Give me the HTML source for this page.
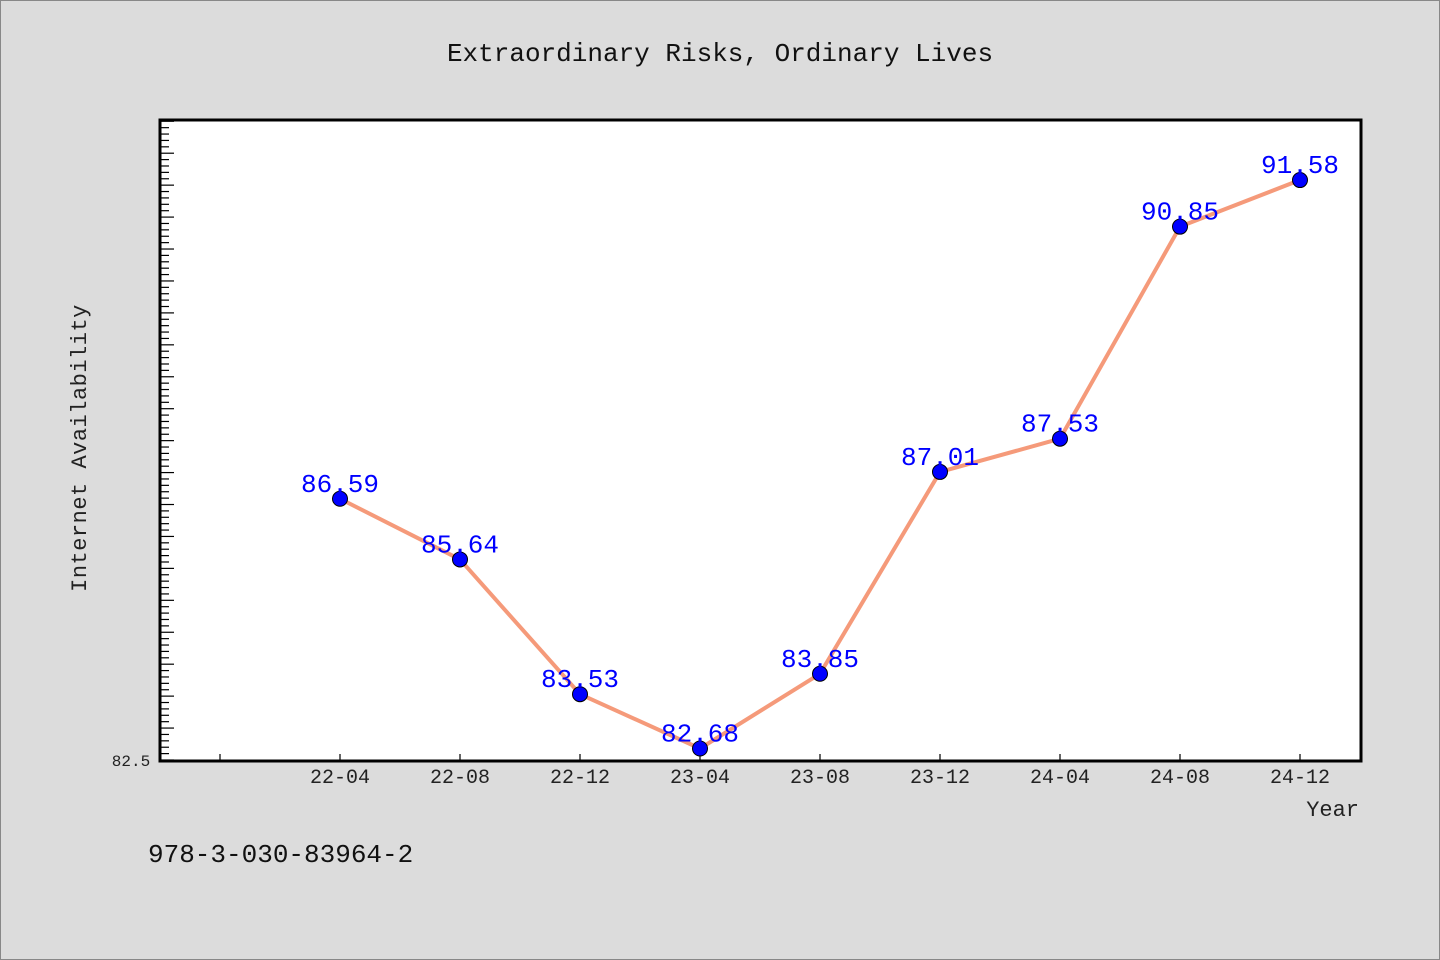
<!DOCTYPE html>
<html><head><meta charset="utf-8"><style>
body{margin:0;background:#dcdcdc;}
svg{display:block;font-family:"WenQuanYi Zen Hei","Liberation Mono",monospace;}
</style></head><body>
<svg width="1440" height="960" xmlns="http://www.w3.org/2000/svg">
<rect x="0.5" y="0.5" width="1439" height="959" fill="#dcdcdc" stroke="#888"/>
<text x="720" y="61" text-anchor="middle" font-size="26" fill="#111">Extraordinary Risks, Ordinary Lives</text>
<rect x="160" y="120" width="1201" height="641" fill="#fff"/>
<g id="ticks"></g>
<g id="series"></g>
<rect x="160" y="120" width="1201" height="641" fill="none" stroke="#000" stroke-width="3"/>
<text x="131" y="766" text-anchor="middle" font-size="16" fill="#222">82.5</text>
<text x="86" y="448" text-anchor="middle" font-size="22" fill="#222" letter-spacing="0.5" transform="rotate(-90 86 448)">Internet Availability</text>
<text x="1359" y="816" text-anchor="end" font-size="22" fill="#222">Year</text>
<text x="148" y="862" font-size="26" fill="#111">978-3-030-83964-2</text>
</svg>
<script>
const categories=["22-04","22-08","22-12","23-04","23-08","23-12","24-04","24-08","24-12"];
const values=[86.59,85.64,83.53,82.68,83.85,87.01,87.53,90.85,91.58];
const labels=["86.59","85.64","83.53","82.68","83.85","87.01","87.53","90.85","91.58"];
const ns="http://www.w3.org/2000/svg";
const yMin=82.5,yMax=92.52,yTop=120,yBot=760;
function y(v){return yBot-(v-yMin)/(yMax-yMin)*(yBot-yTop);}
function x(i){return 340+120*i;}
function mk(t,a,p){const e=document.createElementNS(ns,t);for(const k in a)e.setAttribute(k,a[k]);p.appendChild(e);return e;}
const tg=document.getElementById('ticks'),sg=document.getElementById('series');
for(let k=0;;k++){const v=yMin+k*0.1;if(v>yMax)break;const yy=y(v);const major=k%5===0;
 const l=mk('line',{x1:160,x2:major?174:169,y1:yy,y2:yy,stroke:'#000','stroke-width':1.2},tg);
 
 }
for(let i=-1;i<categories.length;i++){const l=mk('line',{x1:x(i),x2:x(i),y1:761,y2:754,stroke:'#000','stroke-width':1.2},tg);
 
 
 if(i>=0){const t=mk('text',{x:x(i),y:783,'text-anchor':'middle','font-size':20,fill:'#222'},tg);t.textContent=categories[i];
 
 }}
const pl=mk('polyline',{points:values.map((v,i)=>x(i)+','+y(v)).join(' '),fill:'none',stroke:'#f59a7a','stroke-width':4,'stroke-linejoin':'round'},sg);


values.forEach((v,i)=>{const c=mk('circle',{cx:x(i),cy:y(v),r:7.5,fill:'#0000ff',stroke:'#000','stroke-width':1},sg);
 
 
 const t=mk('text',{x:x(i),y:y(v)-7,'text-anchor':'middle','font-size':26,fill:'#0000ff'},sg);t.textContent=labels[i];
 
 });
</script>
</body></html>
